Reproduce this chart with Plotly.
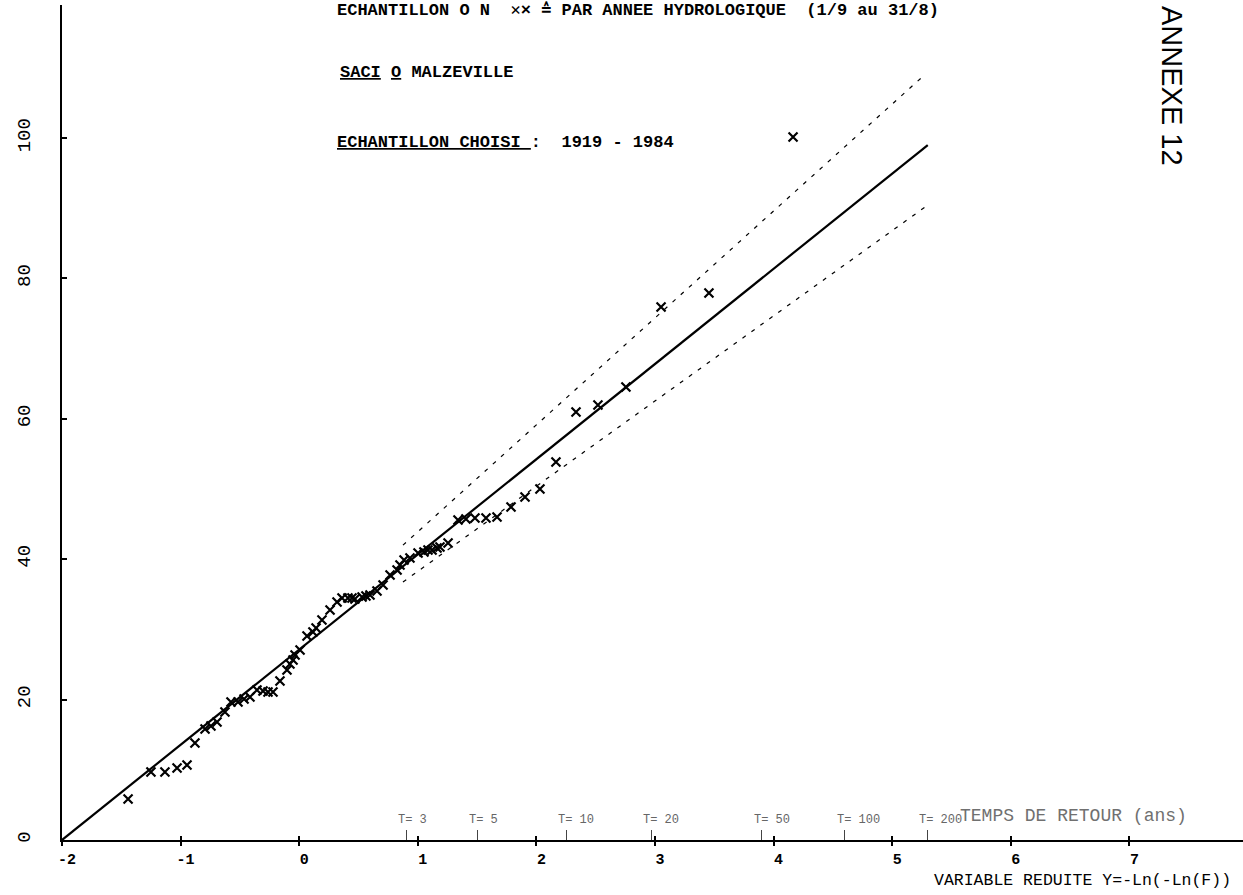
import math
import plotly.graph_objects as go

# ---- data (reduced Gumbel variable, value) ----
obs_x = [-1.443, -1.250, -1.132, -1.030, -0.946, -0.879, -0.794, -0.744, -0.693, -0.626,
         -0.575, -0.516, -0.465, -0.415, -0.356, -0.305, -0.263, -0.221, -0.162, -0.103,
         -0.078, -0.052, -0.035, 0.007, 0.066, 0.116, 0.142, 0.192, 0.260, 0.319,
         0.361, 0.411, 0.445, 0.470, 0.530, 0.563, 0.597, 0.656, 0.707, 0.766,
         0.825, 0.850, 0.884, 0.934, 1.002, 1.052, 1.086, 1.120, 1.162, 1.187,
         1.255, 1.339, 1.406, 1.482, 1.575, 1.668, 1.786, 1.904, 2.030, 2.165,
         2.334, 2.519, 2.755, 3.051, 3.455, 4.164]
obs_y = [5.84, 9.69, 9.69, 10.26, 10.68, 13.82, 15.81, 16.24, 16.81, 18.23,
         19.66, 19.66, 20.09, 20.37, 21.37, 21.23, 21.08, 21.08, 22.65, 24.22,
         25.07, 25.64, 26.35, 27.07, 29.06, 29.63, 30.20, 31.34, 32.76, 33.90,
         34.47, 34.47, 34.47, 34.33, 34.62, 34.76, 34.90, 35.47, 36.32, 37.75,
         38.46, 39.17, 39.89, 40.17, 40.88, 41.03, 41.31, 41.31, 41.60, 41.74,
         42.31, 45.58, 45.73, 45.87, 45.87, 46.01, 47.44, 48.86, 50.00, 53.85,
         60.97, 61.97, 64.53, 75.93, 77.92, 100.14]

fit_x = [-2.0, 5.30]
fit_y = [0.0, 99.0]
upper_x = [0.875, 5.28]
upper_y = [42.0, 109.1]
lower_x = [0.875, 5.28]
lower_y = [36.75, 90.2]

x_ticks = [-2, -1, 0, 1, 2, 3, 4, 5, 6, 7]
y_ticks = [0, 20, 40, 60, 80, 100]
y_ticktext = ["0", "20", "40", "60", "80", "100"]
return_periods = [3, 5, 10, 20, 50, 100, 200]
return_labels = ["T= 3", "T= 5", "T= 10", "T= 20", "T= 50", "T= 100", "T= 200"]
T_pos = [-math.log(-math.log(1 - 1 / T)) for T in return_periods]

X_RANGE = [-2, 7.958]
Y_RANGE = [0, 118.95]
MONO = "Liberation Mono, DejaVu Sans Mono, monospace"

fig = go.Figure()
fig.add_trace(go.Scatter(x=upper_x, y=upper_y, mode="lines",
                         line=dict(color="black", width=1.2, dash="4px,7px")))
fig.add_trace(go.Scatter(x=lower_x, y=lower_y, mode="lines",
                         line=dict(color="black", width=1.2, dash="4px,7px")))
fig.add_trace(go.Scatter(x=fit_x, y=fit_y, mode="lines",
                         line=dict(color="black", width=2.2)))
fig.add_trace(go.Scatter(x=obs_x, y=obs_y, mode="markers",
                         marker=dict(symbol="x-thin", size=9,
                                     line=dict(color="black", width=2.2))))
# helper traces so the overlay axes are drawn
fig.add_trace(go.Scatter(x=[], y=[], xaxis="x2", showlegend=False))
fig.add_trace(go.Scatter(x=[], y=[], xaxis="x3", showlegend=False))

for xv, lab in zip(T_pos, return_labels):
    fig.add_annotation(x=xv, y=2.85, xref="x", yref="y", text=lab,
                       showarrow=False, xanchor="left", yanchor="middle", xshift=-10,
                       font=dict(family=MONO, size=12, color="#666666"))

BOLD = dict(family=MONO, size=17, color="black", weight="bold")
annots = [
    dict(x=(335 - 62) / 1181, y=(840 - 10) / 835,
         text="ECHANTILLON O N  ✕× ≙ PAR ANNEE HYDROLOGIQUE  (1/9 au 31/8)",
         font=BOLD, xanchor="left"),
    dict(x=(338 - 62) / 1181, y=(840 - 72) / 835,
         text="<u>SACI</u> <u>O</u> MALZEVILLE",
         font=BOLD, xanchor="left"),
    dict(x=(335 - 62) / 1181, y=(840 - 142) / 835,
         text="<u>ECHANTILLON CHOISI </u>:  1919 - 1984",
         font=BOLD, xanchor="left"),
    dict(x=(958 - 62) / 1181, y=(840 - 816) / 835,
         text="TEMPS DE RETOUR (ans)",
         font=dict(family=MONO, size=18, color="#707070"), xanchor="left"),
    dict(x=(932 - 62) / 1181, y=(840 - 880) / 835,
         text="VARIABLE REDUITE Y=-Ln(-Ln(F))",
         font=dict(family=MONO, size=16.5, color="black"), xanchor="left"),
    dict(x=(1172 - 62) / 1181, y=(840 - 86) / 835, text="ANNEXE 12", textangle=90,
         font=dict(family="Liberation Sans, Arial, sans-serif", size=29, color="black"),
         xanchor="center"),
]
for a in annots:
    fig.add_annotation(xref="paper", yref="paper", showarrow=False, yanchor="middle", **a)

fig.update_layout(
    width=1243, height=895,
    margin=dict(l=62, r=0, t=5, b=55),
    paper_bgcolor="white", plot_bgcolor="white",
    showlegend=False,
    xaxis=dict(range=X_RANGE, showline=True, linecolor="black", linewidth=1.5,
               ticks="outside", ticklen=4, tickwidth=1.5, tickcolor="black",
               tickvals=x_ticks, ticktext=[str(v) for v in x_ticks],
               tickfont=dict(family=MONO, size=15, color="black", weight="bold"),
               ticklabelshift=5,
               showgrid=False, zeroline=False, anchor="y", fixedrange=True),
    xaxis2=dict(range=X_RANGE, overlaying="x", anchor="y", side="bottom",
                showline=False, ticks="inside", ticklen=4, tickwidth=1.5,
                tickcolor="black", tickvals=x_ticks, showticklabels=False,
                showgrid=False, zeroline=False),
    xaxis3=dict(range=X_RANGE, overlaying="x", anchor="y", side="bottom",
                showline=False, ticks="inside", ticklen=10, tickwidth=1.2,
                tickcolor="#444444", tickvals=T_pos, showticklabels=False,
                showgrid=False, zeroline=False),
    yaxis=dict(range=Y_RANGE, showline=True, linecolor="black", linewidth=2.2,
               ticks="inside", ticklen=5, tickwidth=1.5, tickcolor="black",
               tickvals=y_ticks, ticktext=y_ticktext, tickangle=-90,
               ticklabelstandoff=22,
               tickfont=dict(family=MONO, size=19, color="black"),
               showgrid=False, zeroline=False, fixedrange=True),
)

fig.write_html("out.html")
